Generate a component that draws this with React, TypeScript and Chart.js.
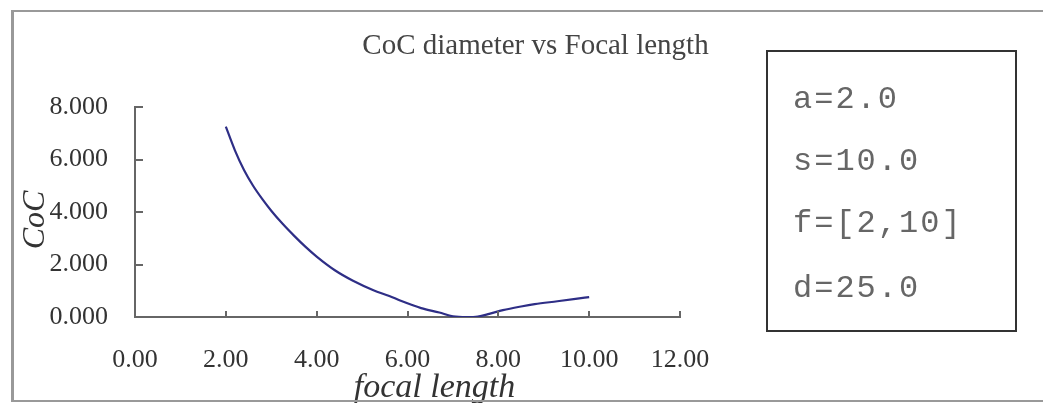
import React, { useEffect, useRef } from "react";
import { Chart, registerables } from "chart.js";

Chart.register(...registerables);

const chartTitle = "CoC diameter vs Focal length";
const xAxisTitle = "focal length";
const yAxisTitle = "CoC";

const focalLengths = [2.0, 2.2, 2.4, 2.6, 2.8, 3.0, 3.25, 3.5, 3.75, 4.0, 4.4, 4.8, 5.25, 5.6, 5.85, 6.3, 6.7, 7.0, 7.3, 7.55, 7.8, 8.1, 8.5, 8.8, 9.3, 9.7, 10.0];
const cocValues = [7.25, 6.35, 5.6, 5.0, 4.5, 4.05, 3.55, 3.1, 2.68, 2.3, 1.78, 1.38, 1.02, 0.8, 0.62, 0.34, 0.17, 0.03, 0.0, 0.02, 0.12, 0.26, 0.4, 0.49, 0.6, 0.69, 0.76];

const xTicks = [0, 2, 4, 6, 8, 10, 12];
const yTicks = [0, 2, 4, 6, 8];

const legendLines = ["a=2.0", "s=10.0", "f=[2,10]", "d=25.0"];

const SERIF = '"Liberation Serif", "Times New Roman", serif';
const MONO = '"Liberation Mono", "Courier New", monospace';
const AXIS_COLOR = "#666";

const textPlugin = {
  id: "cocTexts",
  afterDraw(chart: any) {
    const { ctx, chartArea, scales } = chart;
    const cx = (chartArea.left + chartArea.right) / 2;
    ctx.save();
    // inward tick marks
    ctx.strokeStyle = AXIS_COLOR;
    ctx.lineWidth = 2;
    ctx.beginPath();
    xTicks.forEach((v) => {
      const px = Math.round(scales.x.getPixelForValue(v));
      ctx.moveTo(px, chartArea.bottom);
      ctx.lineTo(px, chartArea.bottom - 6);
    });
    yTicks.forEach((v) => {
      const py = Math.round(scales.y.getPixelForValue(v));
      ctx.moveTo(chartArea.left, py);
      ctx.lineTo(chartArea.left + 8, py);
    });
    ctx.stroke();

    ctx.textAlign = "center";
    ctx.textBaseline = "alphabetic";
    ctx.fillStyle = "#444";
    ctx.font = `29px ${SERIF}`;
    ctx.fillText(chartTitle, cx + 128, chartArea.top - 53);
    ctx.fillStyle = "#333";
    ctx.font = `italic 34px ${SERIF}`;
    ctx.fillText(xAxisTitle, cx + 27, chartArea.bottom + 80);
    ctx.translate(chartArea.left - 91, (chartArea.top + chartArea.bottom) / 2 + 8);
    ctx.rotate(-Math.PI / 2);
    ctx.font = `italic 32px ${SERIF}`;
    ctx.fillText(yAxisTitle, 0, 0);
    ctx.restore();
  },
};

export default function App() {
  const canvasRef = useRef<HTMLCanvasElement | null>(null);

  useEffect(() => {
    const canvas = canvasRef.current;
    if (!canvas) return;
    const chart = new Chart(canvas, {
      type: "line",
      data: {
        datasets: [
          {
            label: "CoC",
            data: focalLengths.map((f, i) => ({ x: f, y: cocValues[i] })),
            borderColor: "#2e2e86",
            borderWidth: 2.2,
            pointRadius: 0,
            fill: false,
            cubicInterpolationMode: "monotone",
          },
        ],
      },
      options: {
        animation: false,
        responsive: false,
        devicePixelRatio: 1,
        layout: { padding: { left: 0, top: 107, right: 363, bottom: 0 } },
        plugins: {
          legend: { display: false },
          title: { display: false },
          tooltip: { enabled: false },
        },
        scales: {
          x: {
            type: "linear",
            min: xTicks[0],
            max: xTicks[xTicks.length - 1],
            afterBuildTicks: (scale: any) => {
              scale.ticks = xTicks.map((v) => ({ value: v }));
            },
            afterFit: (scale: any) => {
              scale.height = 86;
            },
            border: { display: true, color: AXIS_COLOR, width: 2 },
            grid: { display: false, drawTicks: false },
            ticks: {
              autoSkip: false,
              maxRotation: 0,
              padding: 28,
              color: "#333",
              font: { family: SERIF, size: 26 },
              callback: (v: any) => Number(v).toFixed(2),
            },
          },
          y: {
            type: "linear",
            min: yTicks[0],
            max: yTicks[yTicks.length - 1],
            afterBuildTicks: (scale: any) => {
              scale.ticks = yTicks.map((v) => ({ value: v }));
            },
            afterFit: (scale: any) => {
              scale.width = 135;
            },
            border: { display: true, color: AXIS_COLOR, width: 2 },
            grid: { display: false, drawTicks: false },
            ticks: {
              autoSkip: false,
              padding: 27,
              color: "#333",
              font: { family: SERIF, size: 26 },
              callback: (v: any) => Number(v).toFixed(3),
            },
          },
        },
      },
      plugins: [textPlugin],
    } as any);
    return () => chart.destroy();
  }, []);

  const legendCenters = [98, 160, 222, 287];

  return (
    <div
      style={{
        position: "absolute",
        left: 0,
        top: 0,
        width: 1043,
        height: 403,
        overflow: "hidden",
        background: "#fff",
      }}
    >
      <canvas ref={canvasRef} width={1043} height={403} style={{ position: "absolute", left: 0, top: 0 }} />
      <div
        style={{
          position: "absolute",
          left: 11,
          top: 10,
          width: 1032,
          height: 392,
          boxSizing: "border-box",
          borderLeft: "3px solid #999",
          borderTop: "2px solid #999",
          borderBottom: "2px solid #999",
          pointerEvents: "none",
        }}
      />
      <div
        style={{
          position: "absolute",
          left: 766,
          top: 50,
          width: 251,
          height: 282,
          boxSizing: "border-box",
          border: "2px solid #333",
        }}
      >
        {legendLines.map((t, i) => (
          <div
            key={t}
            style={{
              position: "absolute",
              left: 25,
              top: legendCenters[i] - 50 - 17,
              fontFamily: MONO,
              fontSize: 32,
              lineHeight: "34px",
              letterSpacing: "2px",
              color: "#666",
              whiteSpace: "nowrap",
            }}
          >
            {t}
          </div>
        ))}
      </div>
    </div>
  );
}
